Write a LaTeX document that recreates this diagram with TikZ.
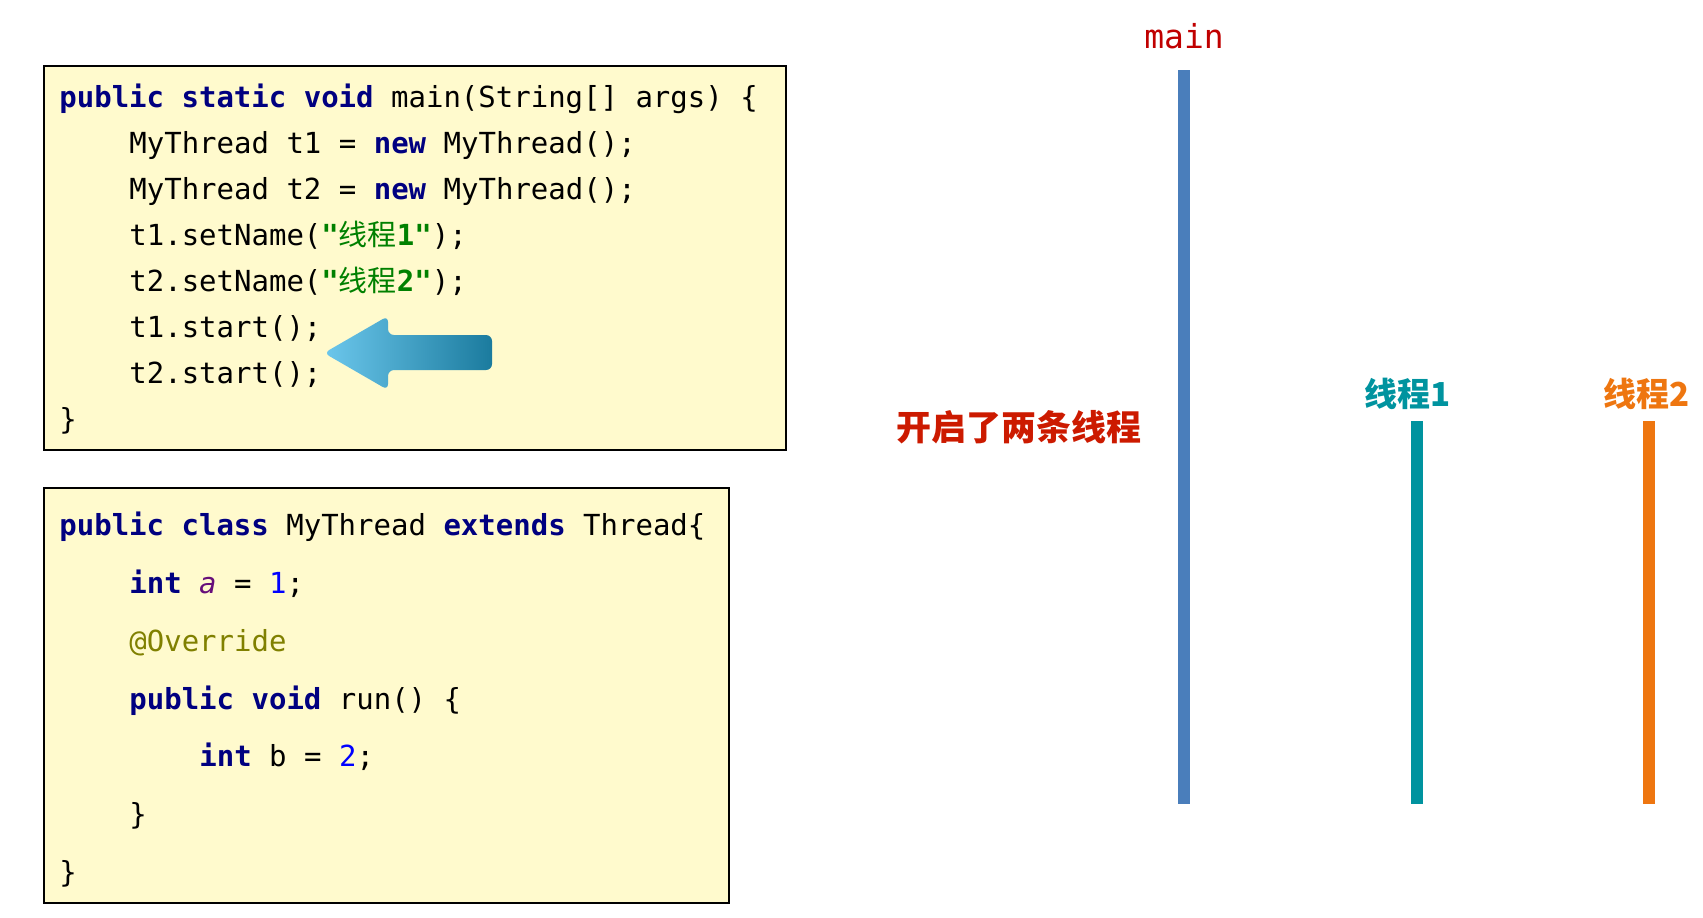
\documentclass[tikz,border=0pt]{standalone}
\usepackage{fontspec}
\setmonofont{DejaVu Sans Mono}
\newfontfamily\cjk{Noto Sans CJK SC}
\usetikzlibrary{positioning}
% --- colours -------------------------------------------------------------
\definecolor{kwblue}{HTML}{000080}
\definecolor{strgreen}{HTML}{008000}
\definecolor{numblue}{HTML}{0000FF}
\definecolor{fieldpurple}{HTML}{660E7A}
\definecolor{annotolive}{HTML}{808000}
\definecolor{codebg}{HTML}{FFFACD}
\definecolor{mainblue}{HTML}{4A7EBB}
\definecolor{tealone}{HTML}{00939F}
\definecolor{orangetwo}{HTML}{EE7610}
\definecolor{labelred}{HTML}{C00000}
\definecolor{hintred}{HTML}{CC1A00}
\definecolor{arrowlight}{HTML}{6CC7EC}
\definecolor{arrowdark}{HTML}{1B7B9E}
\tikzset{
  % --- code boxes -------------------------------------------------------
  codebox/.style  ={draw=black, line width=1pt, fill=codebg, anchor=north west,
                    inner sep=0pt},
  code/.style     ={anchor=base west, inner sep=0pt,
                    font=\ttfamily\fontsize{14.5}{17}\selectfont},
  % --- thread lifelines -------------------------------------------------
  lifeline/.style ={line width=6pt},
  threadlab/.style={anchor=center, inner sep=0pt,
                    font=\cjk\bfseries\fontsize{16.5}{19}\selectfont},
}
\newcommand{\kw}[1]{\textcolor{kwblue}{\textbf{#1}}}
\newcommand{\strlit}[1]{\textcolor{strgreen}{\textbf{#1}}}
\newcommand{\numlit}[1]{\textcolor{numblue}{#1}}

\begin{document}
\begin{tikzpicture}[x=0.5pt, y=-0.5pt]
  \useasboundingbox (0,0) rectangle (1703,917);

  % ============================= main() code =============================
  \node[codebox, minimum width=371pt, minimum height=192pt] (mainbox) at (43,65) {};
  \node[code] (l1) at (59,107)  {\kw{public} \kw{static} \kw{void} main(String[] args) \{};
  \node[code] (l2) at (129,153) {MyThread t1 = \kw{new} MyThread();};
  \node[code] (l3) at (129,199) {MyThread t2 = \kw{new} MyThread();};
  \node[code] (l4) at (129,245) {t1.setName(\strlit{"{\cjk\mdseries 线程}1"});};
  \node[code] (l5) at (129,291) {t2.setName(\strlit{"{\cjk\mdseries 线程}2"});};
  \node[code] (l6) at (129,337) {t1.start();};
  \node[code] (l7) at (129,383) {t2.start();};
  \node[code] (l8) at (59,429)  {\}};

  % pointer at the two start() calls
  \shade[left color=arrowlight, middle color=arrowlight!72!arrowdark,
         right color=arrowdark, rounded corners=3pt]
    (324,353) -- (388,316) -- (388,335) -- (492,335) -- (492,370)
    -- (388,370) -- (388,390) -- cycle;

  % ============================= MyThread class =============================
  \node[codebox, minimum width=342.5pt, minimum height=207.5pt] (classbox) at (43,487) {};
  \node[code] (c1) at (59,535)  {\kw{public} \kw{class} MyThread \kw{extends} Thread\{};
  \node[code] (c2) at (129,593) {\kw{int} \textcolor{fieldpurple}{\textit{a}} = \numlit{1};};
  \node[code] (c3) at (129,651) {\textcolor{annotolive}{@Override}};
  \node[code] (c4) at (129,709) {\kw{public} \kw{void} run() \{};
  \node[code] (c5) at (199,766) {\kw{int} b = \numlit{2};};
  \node[code] (c6) at (129,824) {\}};
  \node[code] (c7) at (59,882)  {\}};

  % ============================= threads =============================
  \node[anchor=base, inner sep=0pt, text=labelred,
        font=\ttfamily\fontsize{16.5}{20}\selectfont] (mainlab) at (1184,48) {main};
  \coordinate (mainTop) at (1184,70);
  \coordinate (mainBot) at (1184,804);
  \draw[lifeline, mainblue] (mainTop) -- (mainBot);

  \node[threadlab, text=tealone] (t1lab) at (1408,394) {线程1};
  \coordinate (t1Top) at (1417,421);
  \coordinate (t1Bot) at (1417,804);
  \draw[lifeline, tealone] (t1Top) -- (t1Bot);

  \node[threadlab, text=orangetwo] (t2lab) at (1647,394) {线程2};
  \coordinate (t2Top) at (1648.5,421);
  \coordinate (t2Bot) at (1648.5,804);
  \draw[lifeline, orangetwo] (t2Top) -- (t2Bot);

  \node[anchor=center, inner sep=0pt, text=hintred,
        font=\cjk\bfseries\fontsize{17.5}{20}\selectfont] (hint) at (1019,427) {开启了两条线程};

\end{tikzpicture}
\end{document}
